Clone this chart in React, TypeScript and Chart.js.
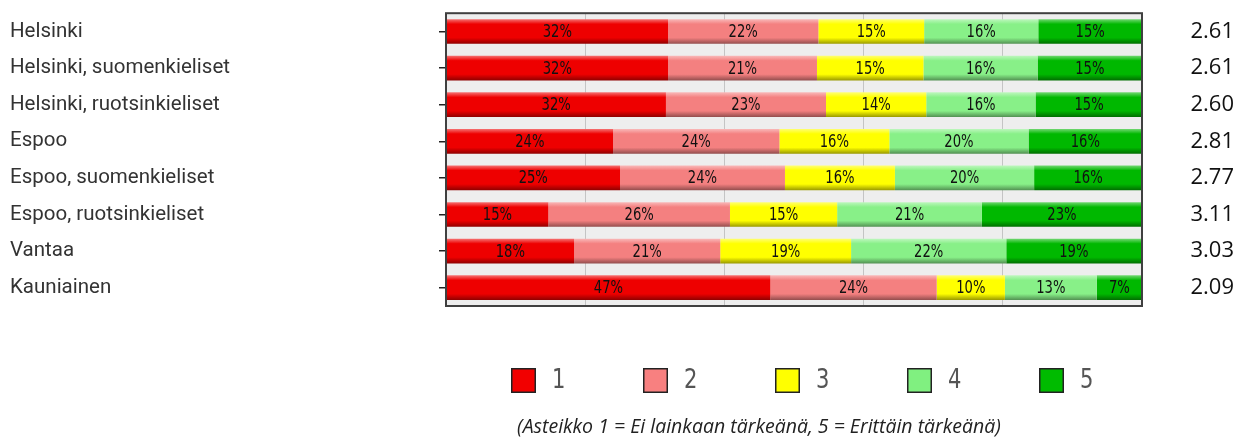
import { useEffect, useRef } from 'react';
import { Chart, registerables } from 'chart.js';

Chart.register(...registerables);

const categories = [
  'Helsinki',
  'Helsinki, suomenkieliset',
  'Helsinki, ruotsinkieliset',
  'Espoo',
  'Espoo, suomenkieliset',
  'Espoo, ruotsinkieliset',
  'Vantaa',
  'Kauniainen',
];
const seriesNames = ['1', '2', '3', '4', '5'];
const share1 = [31.9, 31.9, 31.6, 24.0, 25.0, 14.7, 18.4, 46.6];
const share2 = [21.6, 21.4, 23.0, 23.9, 23.7, 26.1, 21.0, 23.9];
const share3 = [15.2, 15.3, 14.4, 15.8, 15.8, 15.4, 18.8, 9.8];
const share4 = [16.4, 16.4, 15.7, 20.0, 20.0, 20.8, 22.3, 13.2];
const share5 = [14.9, 15.0, 15.4, 16.3, 15.5, 23.0, 19.4, 6.5];
const means = ['2.61', '2.61', '2.60', '2.81', '2.77', '3.11', '3.03', '2.09'];
const subtitle = '(Asteikko 1 = Ei lainkaan tärkeänä, 5 = Erittäin tärkeänä)';

const barColors = ['#ee0000', '#f48080', '#ffff00', '#88f088', '#00b800'];
const legendColors = ['#f20000', '#f88080', '#ffff00', '#80f080', '#00bb00'];

const BAR_PCT = 0.675;
const NARROW = '"Liberation Sans Narrow", "DejaVu Sans Condensed", "Arial Narrow", sans-serif';

function parseHex(hex: string): number[] {
  const h = hex.replace('#', '');
  return [0, 2, 4].map((i) => parseInt(h.slice(i, i + 2), 16));
}
function mix(hex: string, target: number, t: number): string {
  const c = parseHex(hex).map((v) => Math.round(v + (target - v) * t));
  return `rgb(${c[0]},${c[1]},${c[2]})`;
}

function gradientFor(base: string) {
  return (ctx: any) => {
    const chart = ctx.chart;
    const ys = chart.scales && chart.scales.y;
    const area = chart.chartArea;
    if (!ys || !area || ctx.type !== 'data') return base;
    const c = ys.getPixelForValue(ctx.dataIndex);
    const half = ((area.bottom - area.top) / categories.length) * BAR_PCT / 2;
    const g = chart.ctx.createLinearGradient(0, c - half, 0, c + half);
    g.addColorStop(0, mix(base, 255, 0.45));
    g.addColorStop(0.2, base);
    g.addColorStop(0.75, base);
    g.addColorStop(1, mix(base, 0, 0.4));
    return g;
  };
}

const plotBackground = {
  id: 'plotBackground',
  beforeDraw(chart: any) {
    const { ctx, chartArea: a } = chart;
    ctx.save();
    ctx.fillStyle = '#eeeeee';
    ctx.fillRect(a.left, a.top, a.right - a.left, a.bottom - a.top);
    ctx.restore();
  },
  afterDatasetsDraw(chart: any) {
    const { ctx, chartArea: a } = chart;
    ctx.save();
    ctx.strokeStyle = '#404040';
    ctx.lineWidth = 2;
    ctx.strokeRect(a.left, a.top, a.right - a.left, a.bottom - a.top);
    ctx.restore();
  },
};

const segmentLabels = {
  id: 'segmentLabels',
  afterDatasetsDraw(chart: any) {
    const { ctx } = chart;
    ctx.save();
    ctx.font = `17px ${NARROW}`;
    ctx.fillStyle = '#111';
    ctx.textAlign = 'center';
    ctx.textBaseline = 'middle';
    chart.data.datasets.forEach((ds: any, di: number) => {
      const meta = chart.getDatasetMeta(di);
      meta.data.forEach((el: any, i: number) => {
        const { x, base, y } = el.getProps(['x', 'base', 'y'], true);
        const cx = (x + base) / 2;
        ctx.save();
        ctx.translate(cx, y + 1);
        ctx.scale(0.86, 1);
        ctx.fillText(Math.round(ds.data[i]) + '%', 0, 0);
        ctx.restore();
      });
    });
    ctx.restore();
  },
};

const scaleLegend = {
  id: 'scaleLegend',
  afterDraw(chart: any) {
    const { ctx, chartArea: a } = chart;
    const step = 132;
    const box = 25;
    const startX = a.left + 65;
    const top = a.bottom + 62;
    ctx.save();
    seriesNames.forEach((name, i) => {
      const x = startX + i * step;
      ctx.fillStyle = legendColors[i];
      ctx.fillRect(x, top, box, box);
      ctx.strokeStyle = '#222';
      ctx.lineWidth = 1.5;
      ctx.strokeRect(x + 0.75, top + 0.75, box - 1.5, box - 1.5);
      ctx.fillStyle = '#555';
      ctx.font = `26px ${NARROW}`;
      ctx.textAlign = 'left';
      ctx.textBaseline = 'middle';
      ctx.save();
      ctx.translate(x + 41, top + box / 2 + 1);
      ctx.scale(0.9, 1);
      ctx.fillText(name, 0, 0);
      ctx.restore();
    });
    ctx.font = 'italic 19.5px "Open Sans", Lato, sans-serif';
    ctx.fillStyle = '#222';
    ctx.textAlign = 'center';
    ctx.textBaseline = 'alphabetic';
    ctx.fillText(subtitle, a.left + 313, a.bottom + 127);
    ctx.restore();
  },
};

export default function App() {
  const canvasRef = useRef<HTMLCanvasElement | null>(null);

  useEffect(() => {
    if (!canvasRef.current) return;
    const series = [share1, share2, share3, share4, share5];
    const chart = new Chart(canvasRef.current, {
      type: 'bar',
      data: {
        labels: categories,
        datasets: series.map((data, i) => ({
          label: seriesNames[i],
          data,
          backgroundColor: gradientFor(barColors[i]),
          borderWidth: 0,
          barPercentage: BAR_PCT,
          categoryPercentage: 1,
        })),
      },
      options: {
        indexAxis: 'y',
        animation: false,
        responsive: true,
        maintainAspectRatio: false,
        layout: { padding: { left: 10, top: 11, right: 11, bottom: 132 } },
        plugins: {
          legend: { display: false },
          tooltip: { enabled: false },
          title: { display: false },
        },
        scales: {
          x: {
            stacked: true,
            min: 0,
            max: 100,
            ticks: { display: false, stepSize: 20 },
            grid: { color: '#c4c4c4', lineWidth: 1, drawTicks: false },
            border: { display: false },
          },
          y: {
            stacked: true,
            grid: {
              offset: false,
              drawOnChartArea: false,
              drawTicks: true,
              tickLength: 7,
              color: '#222',
              lineWidth: 1.5,
            },
            border: { display: false },
            ticks: {
              crossAlign: 'far',
              color: '#333',
              padding: 0,
              font: { family: 'Roboto, "Liberation Sans", sans-serif', size: 20.5 },
            },
            afterFit: (s: any) => {
              s.width = 436;
            },
          },
          y2: {
            type: 'category',
            position: 'right',
            labels: means,
            offset: true,
            grid: { display: false, drawTicks: false },
            border: { display: false },
            ticks: {
              crossAlign: 'far',
              padding: 0,
              color: '#111',
              font: { family: '"Open Sans", sans-serif', size: 22 },
            },
            afterFit: (s: any) => {
              s.width = 92;
            },
          },
        },
      } as any,
      plugins: [plotBackground, segmentLabels, scaleLegend],
    });
    return () => chart.destroy();
  }, []);

  return (
    <div style={{ position: 'absolute', left: 0, top: 0, width: 1245, height: 438 }}>
      <canvas ref={canvasRef} />
    </div>
  );
}
